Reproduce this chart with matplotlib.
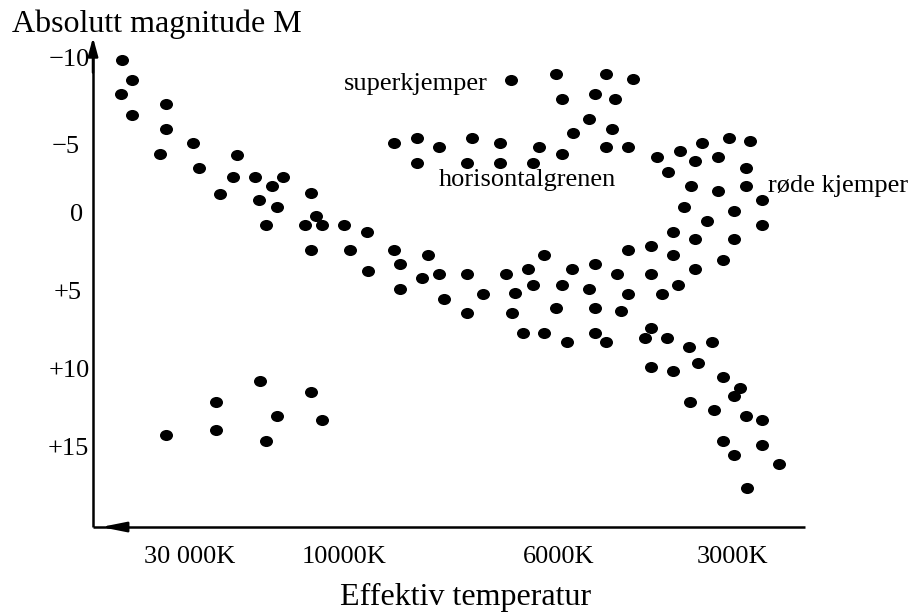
import numpy as np
import matplotlib
matplotlib.use("Agg")
import matplotlib.pyplot as plt
from matplotlib.path import Path
from matplotlib.markers import MarkerStyle

plt.rcParams['font.family'] = ['Liberation Serif', 'DejaVu Serif']

# x: position along the temperature axis (arbitrary units, hot -> cool)
# y: absolute magnitude M
main_x = [2.9, 3.9, 2.8, 3.9, 7.3, 7.3, 6.7, 10.0, 10.6, 14.4, 14.0, 12.7, 16.2, 17.9, 19.0,
          16.6, 18.4, 17.3, 21.8, 22.3, 21.2, 22.9, 25.1, 27.4, 21.8, 25.7, 30.1, 30.7, 27.5, 30.7,
          33.5, 32.9, 34.6, 35.1, 37.4, 39.0, 37.4, 41.3, 43.5, 42.2, 44.0, 41.9, 45.1, 47.9, 46.9,
          46.3, 43.0, 45.1, 47.4, 50.2, 49.6, 50.2, 50.2, 51.3, 52.4, 53.5, 52.8, 53.5, 55.8, 55.8,
          56.9, 58.0, 58.0, 58.5, 60.2, 60.2, 55.8, 55.2, 57.4, 59.6, 55.8, 58.0, 60.5, 61.9,
          63.0, 64.7, 64.1, 59.7, 62.1, 65.3, 66.9, 63.0, 66.9, 64.1, 68.6, 65.4]
main_M = [-9.8, -8.5, -7.6, -6.3, -7.0, -5.4, -3.8, -4.5, -2.9, -3.7, -2.3, -1.2, -2.3, -1.7, -2.3,
          -0.8, -0.4, 0.8, -1.3, 0.2, 0.8, 0.8, 0.8, 1.2, 2.4, 2.4, 2.4, 3.3, 3.7, 4.9,
          2.7, 4.2, 3.9, 5.5, 3.9, 5.2, 6.4, 3.9, 3.6, 5.1, 4.6, 6.4, 2.7, 3.6, 4.6,
          6.1, 7.7, 7.7, 8.3, 3.3, 4.9, 6.1, 7.7, 8.3, 3.9, 5.2, 6.3, 2.4, 2.1, 3.9,
          5.2, 1.2, 2.7, 4.6, 1.7, 3.6, 7.4, 8.0, 8.0, 8.6, 9.9, 10.1, 9.6, 8.3,
          10.5, 11.2, 11.7, 12.1, 12.6, 13.0, 13.3, 14.6, 14.9, 15.5, 16.1, 17.6]

giant_x = [56.4, 58.7, 60.9, 63.6, 65.7, 60.2, 62.5, 57.5, 65.3, 59.8, 62.5, 65.3, 66.9, 59.1,
           64.1, 61.4, 66.9, 64.1, 63.0]
giant_M = [-3.6, -4.0, -4.5, -4.8, -4.6, -3.3, -3.6, -2.6, -2.9, -1.7, -1.4, -1.7, -0.8, -0.4,
           -0.1, 0.5, 0.8, 1.7, 3.0]

super_x = [41.8, 46.3, 51.3, 54.0, 46.9, 50.2, 52.2, 49.6, 48.0, 51.9, 51.3, 53.5, 46.9]
super_M = [-8.5, -8.9, -8.9, -8.6, -7.3, -7.6, -7.3, -6.0, -5.1, -5.4, -4.2, -4.2, -3.8]

hb_x = [30.1, 32.4, 34.6, 37.9, 40.7, 44.6, 32.4, 37.4, 40.7, 44.0]
hb_M = [-4.5, -4.8, -4.2, -4.8, -4.5, -4.2, -3.2, -3.2, -3.2, -3.2]

wd_x = [16.7, 12.3, 21.8, 18.4, 22.9, 7.3, 12.3, 17.3]
wd_M = [10.8, 12.1, 11.5, 13.0, 13.3, 14.2, 13.9, 14.6]

temp_pos = [9.7, 25.1, 46.6, 63.9]
temp_labels = ['30 000K', '10000K', '6000K', '3000K']

mag_labels = ['\u221210', '\u22125', '0', '+5', '+10', '+15']
mag_label_y = [-9.4, -3.85, 0.5, 5.5, 10.5, 15.5]
mag_label_x = [-0.3, -1.3, -1.0, -1.1, -0.3, -0.4]


def hr_diagram():
    fig = plt.figure(figsize=(9.13, 6.13), dpi=100)
    ax = fig.add_axes([0, 0, 1, 1])
    ax.set_xlim(-9.3, 82.0)
    ax.set_ylim(25.64, -13.65)
    ax.axis('off')

    # slightly flattened dots, like the hand drawing
    dot = Path(Path.unit_circle().vertices * [1.0, 0.85], Path.unit_circle().codes)
    xs = main_x + giant_x + super_x + hb_x + wd_x
    ys = main_M + giant_M + super_M + hb_M + wd_M
    ax.scatter(xs, ys, s=88, marker=MarkerStyle(dot), color='black', linewidths=0)

    # axes drawn by hand with arrows
    bottom = 20.13
    ax.plot([0, 0], [bottom, -10.5], color='black', lw=1.8, solid_capstyle='butt')
    ax.plot([0, 71.2], [bottom, bottom], color='black', lw=1.8, solid_capstyle='butt')
    ax.annotate('', xy=(0, -11.25), xytext=(0, -9.0),
                arrowprops=dict(arrowstyle='-|>,head_length=1.1,head_width=0.3',
                                color='black', lw=1.8, shrinkA=0, shrinkB=0))
    ax.annotate('', xy=(0.8, bottom), xytext=(3.5, bottom),
                arrowprops=dict(arrowstyle='-|>,head_length=1.5,head_width=0.3',
                                color='black', lw=1.8, shrinkA=0, shrinkB=0))

    for x, label in zip(temp_pos, temp_labels):
        ax.text(x, 22.45, label, ha='center', va='baseline', fontsize=19)
    for x, y, label in zip(mag_label_x, mag_label_y, mag_labels):
        ax.text(x, y, label, ha='right', va='baseline', fontsize=19)

    ax.text(-8.1, -11.6, 'Absolutt magnitude M', ha='left', va='baseline', fontsize=23)
    ax.text(37.3, 25.1, 'Effektiv temperatur', ha='center', va='baseline', fontsize=23)

    ax.text(25.1, -7.9, 'superkjemper', ha='left', va='baseline', fontsize=19)
    ax.text(34.6, -1.7, 'horisontalgrenen', ha='left', va='baseline', fontsize=19)
    ax.text(67.5, -1.35, 'røde kjemper', ha='left', va='baseline', fontsize=19)

    fig.savefig('out.png', dpi=100)


if __name__ == "__main__":
    hr_diagram()
